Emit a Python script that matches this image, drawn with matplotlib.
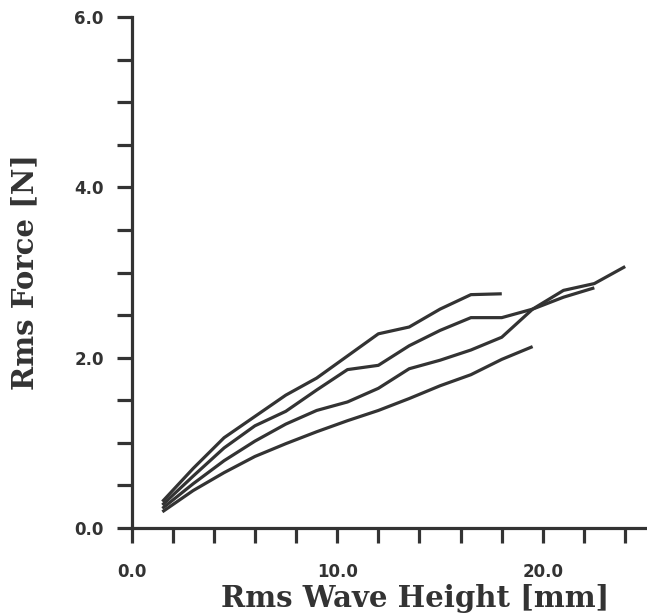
import matplotlib
matplotlib.use("Agg")
import matplotlib.pyplot as plt
from matplotlib.ticker import MultipleLocator, FixedLocator

# Rms wave height [mm] (common sampling grid)
wave_height = [1.5, 3.0, 4.5, 6.0, 7.5, 9.0, 10.5, 12.0, 13.5, 15.0, 16.5, 18.0,
               19.5, 21.0, 22.5, 24.0]

# Rms force [N] for four curves
force_a = [0.31, 0.70, 1.06, 1.31, 1.56, 1.76, 2.02, 2.28, 2.36, 2.57, 2.74, 2.75]
force_b = [0.27, 0.61, 0.94, 1.20, 1.37, 1.62, 1.86, 1.91, 2.14, 2.32, 2.47, 2.47,
           2.57, 2.71, 2.82]
force_c = [0.23, 0.52, 0.79, 1.02, 1.22, 1.38, 1.48, 1.64, 1.87, 1.97, 2.09, 2.24,
           2.57, 2.79, 2.87, 3.07]
force_d = [0.19, 0.44, 0.65, 0.84, 0.99, 1.13, 1.26, 1.38, 1.52, 1.67, 1.80, 1.98,
           2.13]

x_major_labels = ["0.0", "10.0", "20.0"]
y_major_labels = ["0.0", "2.0", "4.0", "6.0"]

line_color = "#333333"

fig = plt.figure(figsize=(6.47, 6.16), dpi=100)
ax = fig.add_axes([131.5 / 647, 88 / 616, (647 - 131.5) / 647, (528 - 17) / 616])

for ys in (force_a, force_b, force_c, force_d):
    ax.plot(wave_height[:len(ys)], ys, color=line_color, lw=2.3,
            solid_joinstyle="round", solid_capstyle="butt")

ax.set_xlim(0, 25.06)
ax.set_ylim(0, 6.0)

for s in ("top", "right"):
    ax.spines[s].set_visible(False)
for s in ("left", "bottom"):
    ax.spines[s].set_linewidth(2.3)
    ax.spines[s].set_color(line_color)

ax.xaxis.set_major_locator(FixedLocator([0, 10, 20]))
ax.xaxis.set_minor_locator(MultipleLocator(2))
ax.set_xticklabels(x_major_labels)
ax.yaxis.set_major_locator(FixedLocator([0, 2, 4, 6]))
ax.yaxis.set_minor_locator(MultipleLocator(0.5))
ax.set_yticklabels(y_major_labels)

ax.tick_params(axis="both", which="both", direction="out", length=11, width=2.3,
               color=line_color)
ax.tick_params(axis="y", which="major", pad=9)
ax.tick_params(axis="x", which="major", pad=14)

for lab in ax.get_xticklabels() + ax.get_yticklabels():
    lab.set_fontfamily("DejaVu Sans")
    lab.set_fontweight("heavy")
    lab.set_fontsize(12)
    lab.set_color(line_color)

ax.set_xlabel("Rms Wave Height [mm]", fontfamily="DejaVu Serif", fontweight="bold",
              fontsize=21, color=line_color)
ax.xaxis.set_label_coords(0.551, -0.110)
ax.set_ylabel("Rms Force [N]", fontfamily="DejaVu Serif", fontweight="bold",
              fontsize=21, color=line_color)
ax.yaxis.set_label_coords(-0.178, 0.5)

fig.savefig("out.png", dpi=100)
